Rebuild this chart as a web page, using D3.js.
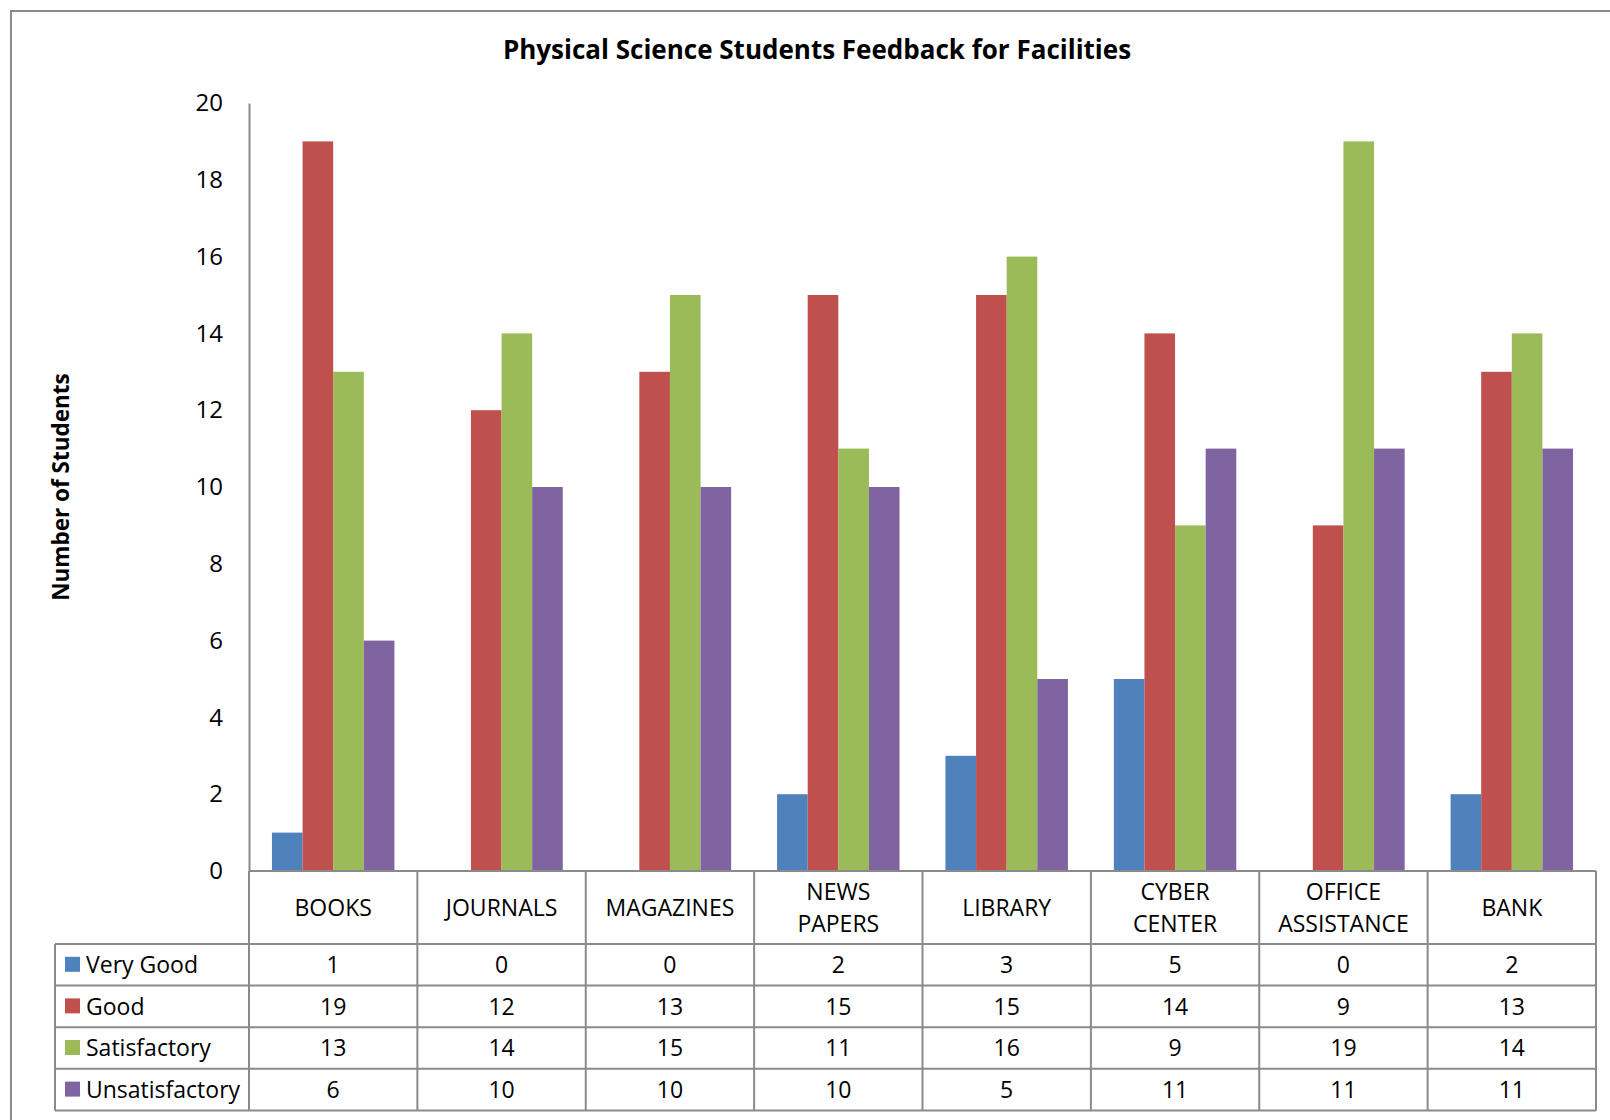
<!DOCTYPE html>
<html>
<head>
  <meta charset="UTF-8">
  <title>Physical Science Students Feedback for Facilities</title>
  <script src="https://d3js.org/d3.v7.min.js"></script>
  <style>
    body { margin: 0; background: #fff; }
    text { font-family: "Open Sans", sans-serif; fill: #000; }
  </style>
</head>
<body>
  <svg width="1610" height="1120"></svg>

  <script>
    // Data
    const categories = ["BOOKS", "JOURNALS", "MAGAZINES", "NEWS PAPERS", "LIBRARY", "CYBER CENTER", "OFFICE ASSISTANCE", "BANK"];
    const seriesNames = ["Very Good", "Good", "Satisfactory", "Unsatisfactory"];
    const veryGood = [1, 0, 0, 2, 3, 5, 0, 2];
    const good = [19, 12, 13, 15, 15, 14, 9, 13];
    const satisfactory = [13, 14, 15, 11, 16, 9, 19, 14];
    const unsatisfactory = [6, 10, 10, 10, 5, 11, 11, 11];
    const yTicks = [0, 2, 4, 6, 8, 10, 12, 14, 16, 18, 20];
    const colors = ["#4F81BD", "#C0504D", "#9BBB59", "#8064A2"];

    const seriesValues = [veryGood, good, satisfactory, unsatisfactory];

    // Layout
    const plotLeft = 249, plotRight = 1596;
    const plotTop = 103, plotBottom = 871;
    const headerBottom = 944;
    const rowH = 41.6;
    const tableLeft = 55;
    const gridColor = "#8a8a8a";
    const fs = 23;
    const fontSize = fs + "px";

    const svg = d3.select("svg");

    // Outer chart frame (cropped at right and bottom)
    svg.append("rect")
      .attr("x", 11).attr("y", 11)
      .attr("width", 1640).attr("height", 1140)
      .attr("fill", "none")
      .attr("stroke", gridColor)
      .attr("stroke-width", 2);

    // Scales
    const x0 = d3.scaleBand()
      .domain(categories)
      .range([plotLeft, plotRight])
      .padding(0);
    const x1 = d3.scaleBand()
      .domain(seriesNames)
      .range([0, x0.bandwidth()])
      .paddingInner(0)
      .paddingOuter(0.75);
    const y = d3.scaleLinear()
      .domain([0, 20])
      .range([plotBottom, plotTop]);

    // Title
    svg.append("text")
      .attr("x", 817)
      .attr("y", 59)
      .attr("text-anchor", "middle")
      .style("font-size", "26px")
      .style("font-weight", "bold")
      .text("Physical Science Students Feedback for Facilities");

    // Y axis label
    svg.append("text")
      .attr("transform", "translate(69, 487) rotate(-90)")
      .attr("text-anchor", "middle")
      .style("font-size", "22.5px")
      .style("font-weight", "bold")
      .text("Number of Students");

    // Y axis
    const yAxis = svg.append("g")
      .attr("transform", `translate(${plotLeft}, 0)`)
      .call(d3.axisLeft(y).tickValues(yTicks).tickSize(0).tickPadding(26));
    yAxis.select(".domain").attr("stroke", gridColor).attr("stroke-width", 2);
    yAxis.selectAll("text")
      .style("font-family", "'Open Sans', sans-serif")
      .style("font-size", "24px");

    // Bars
    const groups = svg.append("g")
      .selectAll("g")
      .data(seriesNames)
      .join("g")
      .attr("fill", (d, i) => colors[i]);

    groups.selectAll("rect")
      .data((s, si) => categories.map((c, ci) => ({ c, s, v: seriesValues[si][ci] })))
      .join("rect")
      .attr("x", d => x0(d.c) + x1(d.s))
      .attr("y", d => y(d.v))
      .attr("width", x1.bandwidth())
      .attr("height", d => plotBottom - y(d.v));

    // Data table
    const table = svg.append("g");
    const tableBottom = headerBottom + rowH * seriesNames.length;

    // horizontal lines
    table.append("line")
      .attr("x1", plotLeft).attr("x2", plotRight)
      .attr("y1", plotBottom).attr("y2", plotBottom);
    seriesNames.forEach((s, i) => {
      table.append("line")
        .attr("x1", tableLeft).attr("x2", plotRight)
        .attr("y1", headerBottom + rowH * i).attr("y2", headerBottom + rowH * i);
    });
    table.append("line")
      .attr("x1", tableLeft).attr("x2", plotRight)
      .attr("y1", tableBottom).attr("y2", tableBottom);

    // vertical lines
    table.append("line")
      .attr("x1", tableLeft).attr("x2", tableLeft)
      .attr("y1", headerBottom).attr("y2", tableBottom);
    categories.forEach(c => {
      table.append("line")
        .attr("x1", x0(c)).attr("x2", x0(c))
        .attr("y1", plotBottom).attr("y2", tableBottom);
    });
    table.append("line")
      .attr("x1", plotRight).attr("x2", plotRight)
      .attr("y1", plotBottom).attr("y2", tableBottom);

    table.selectAll("line")
      .attr("stroke", gridColor)
      .attr("stroke-width", 2);

    // Category header labels (wrapped into two lines when needed)
    categories.forEach(c => {
      const words = c.split(" ");
      const cx = x0(c) + x0.bandwidth() / 2;
      const midY = (plotBottom + headerBottom) / 2;
      const lineH = 32;
      const t = table.append("text")
        .attr("text-anchor", "middle")
        .style("font-size", fontSize);
      words.forEach((w, i) => {
        t.append("tspan")
          .attr("x", cx)
          .attr("y", midY + fs * 0.36 + (i - (words.length - 1) / 2) * lineH)
          .text(w);
      });
    });

    // Rows: legend key + values
    seriesNames.forEach((s, si) => {
      const rowMid = headerBottom + rowH * si + rowH / 2;
      table.append("rect")
        .attr("x", 65).attr("y", rowMid - 8)
        .attr("width", 15).attr("height", 15)
        .attr("fill", colors[si]);
      table.append("text")
        .attr("x", 86).attr("y", rowMid + fs * 0.36)
        .style("font-size", fontSize)
        .text(s);
      categories.forEach((c, ci) => {
        table.append("text")
          .attr("x", x0(c) + x0.bandwidth() / 2)
          .attr("y", rowMid + fs * 0.36)
          .attr("text-anchor", "middle")
          .style("font-size", fontSize)
          .text(seriesValues[si][ci]);
      });
    });
  </script>
</body>
</html>
